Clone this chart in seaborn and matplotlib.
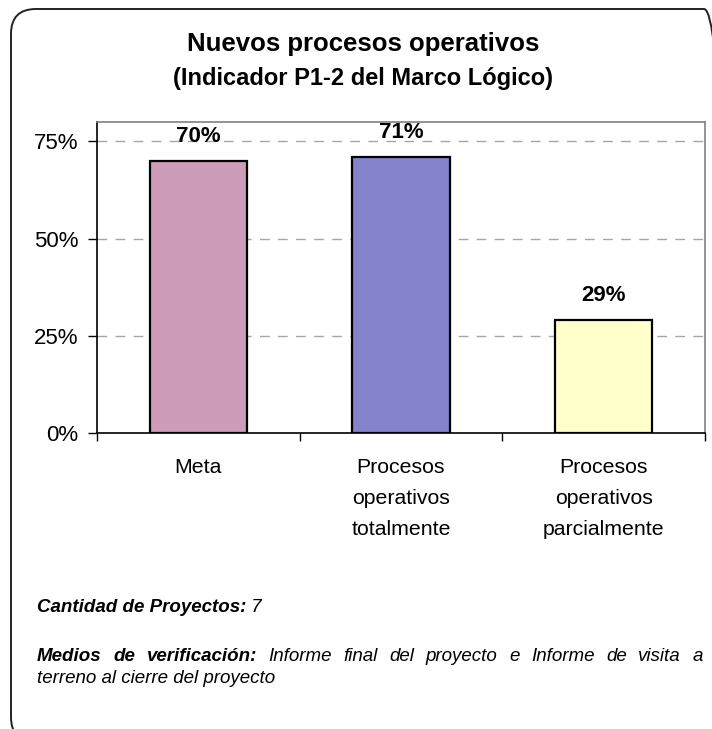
import matplotlib
matplotlib.use("Agg")
import matplotlib.pyplot as plt
import numpy as np
import pandas as pd
import seaborn as sns
from matplotlib.patches import FancyBboxPatch
from matplotlib.ticker import FixedLocator, PercentFormatter

# Data
categories = ["Meta", "Procesos\noperativos\ntotalmente", "Procesos\noperativos\nparcialmente"]
values = [0.70, 0.71, 0.29]
value_labels = ["70%", "71%", "29%"]
bar_colors = ["#CC9CB8", "#8484CC", "#FFFFCC"]
y_ticks = [0.0, 0.25, 0.50, 0.75]

title_1 = "Nuevos procesos operativos"
title_2 = "(Indicador P1-2 del Marco Lógico)"
n_proyectos = "7"
medios_label = "Medios de verificación:"
medios_text = "Informe final del proyecto e Informe de visita a"
medios_text_2 = "terreno al cierre del proyecto"

sns.set_theme(style="white")
plt.rcParams["font.family"] = ["Liberation Sans", "DejaVu Sans"]
plt.rcParams["text.color"] = "black"
plt.rcParams["xtick.color"] = "black"
plt.rcParams["ytick.color"] = "black"

W, H = 712, 729
fig = plt.figure(figsize=(W / 100, H / 100), dpi=100)
ax = fig.add_axes([97 / W, 1 - 433 / H, (705 - 97) / W, (433 - 122) / H])

df = pd.DataFrame({"cat": categories, "val": values})
sns.barplot(data=df, x="cat", y="val", hue="cat", palette=bar_colors, saturation=1,
            width=0.48, edgecolor="black", linewidth=1.6, legend=False, ax=ax)

ax.set_xlim(-0.5, 2.5)
ax.set_ylim(0, 0.80)
ax.set_xlabel("")
ax.set_ylabel("")

# value labels above bars
for i, (v, lab) in enumerate(zip(values, value_labels)):
    ax.text(i, v + 0.063, lab, ha="center", va="center",
            fontsize=16, fontweight="bold", color="black")

# dashed grid
for y in y_ticks[1:]:
    ax.axhline(y, color="#A6A6A6", linestyle=(0, (7, 6)), linewidth=1.0, zorder=0)

ax.yaxis.set_major_locator(FixedLocator(y_ticks))
ax.yaxis.set_major_formatter(PercentFormatter(1.0, decimals=0))
ax.tick_params(axis="y", which="major", left=True, length=6.5, width=1,
               labelsize=16, pad=7)

# category labels (drawn as annotations so the line spacing sticks)
ax.set_xticks(range(len(categories)))
ax.set_xticklabels([])
ax.tick_params(axis="x", which="major", length=0)
for i, cat in enumerate(categories):
    ax.annotate(cat, xy=(i, 0), xycoords=("data", "axes fraction"),
                xytext=(0, -18), textcoords="offset points", ha="center", va="top",
                fontsize=15.3, linespacing=1.8, annotation_clip=False)
ax.xaxis.set_minor_locator(FixedLocator([-0.5, 0.5, 1.5, 2.5]))
ax.tick_params(axis="x", which="minor", bottom=True, length=6, width=1)

for s in ["left", "bottom"]:
    ax.spines[s].set_color("black")
    ax.spines[s].set_linewidth(1.2)
for s in ["top", "right"]:
    ax.spines[s].set_color("#808080")
    ax.spines[s].set_linewidth(1.2)

# titles
fig.text(363 / W, 1 - 44 / H, title_1, ha="center", va="center",
         fontsize=18.5, fontweight="bold")
fig.text(363 / W, 1 - 79 / H, title_2, ha="center", va="center",
         fontsize=17, fontweight="bold")

# footnotes
FS = 13.5
t1 = fig.text(37 / W, 1 - 612 / H, "Cantidad de Proyectos:", ha="left", va="baseline",
              fontsize=FS, fontweight="bold", fontstyle="italic")
ax.annotate(" " + n_proyectos, xy=(1, 0), xycoords=t1, ha="left", va="bottom",
            fontsize=FS, fontstyle="italic", annotation_clip=False)


def justified_line(x0, x1, y, pieces):
    """Place words spread evenly between x0 and x1 (pixels); pieces = [(word, weight)]."""
    renderer = fig.canvas.get_renderer()
    arts = []
    for word, weight in pieces:
        t = fig.text(0, 1 - y / H, word, ha="left", va="baseline", fontsize=FS,
                     fontweight=weight, fontstyle="italic")
        arts.append(t)
    widths = [a.get_window_extent(renderer).width for a in arts]
    gap = (x1 - x0 - sum(widths)) / (len(arts) - 1)
    x = x0
    for a, w in zip(arts, widths):
        a.set_x(x / W)
        x += w + gap


pieces = [(w, "bold") for w in medios_label.split()] + \
         [(w, "normal") for w in medios_text.split()]
justified_line(37, 703, 661, pieces)
fig.text(37 / W, 1 - 683 / H, medios_text_2, ha="left", va="baseline",
         fontsize=FS, fontstyle="italic")

# rounded outer frame
frame = FancyBboxPatch((11 / W, -13 / H), (729 - 11) / W, (H - 9 + 13) / H,
                       boxstyle="round,pad=0,rounding_size=0.035",
                       transform=fig.transFigure, fill=False,
                       edgecolor="#222222", linewidth=1.4, clip_on=False,
                       mutation_aspect=W / H)
fig.patches.append(frame)

fig.savefig("out.png", dpi=100)
